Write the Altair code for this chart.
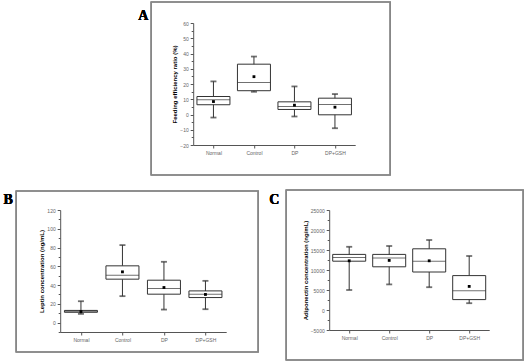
import altair as alt
import pandas as pd

groups = ["Normal", "Control", "DP", "DP+GSH"]

# Panel A: Feeding efficiency ratio (%)
a_min = [-2.0, 14.9, -1.3, -9.0]
a_q1 = [6.4, 15.6, 3.3, -0.2]
a_med = [9.6, 21.0, 5.3, 6.6]
a_q3 = [11.8, 33.0, 8.3, 10.7]
a_max = [21.7, 38.0, 18.4, 13.4]
a_mean = [8.5, 24.8, 6.1, 4.8]

# Panel B: Leptin concentration (ng/mL)
b_min = [9.3, 28.2, 13.9, 14.3]
b_q1 = [11.0, 46.3, 30.3, 26.7]
b_med = [12.0, 50.6, 36.3, 30.3]
b_q3 = [13.0, 60.5, 45.2, 33.8]
b_max = [22.8, 82.6, 64.8, 44.5]
b_mean = [11.8, 54.1, 37.4, 30.0]

# Panel C: Adiponectin concentration (ng/mL)
c_min = [5000, 6400, 5700, 1700]
c_q1 = [12200, 10800, 9500, 2600]
c_med = [13100, 13000, 12200, 4800]
c_q3 = [13900, 13900, 15300, 8600]
c_max = [15800, 16000, 17500, 13500]
c_mean = [12300, 12400, 12300, 5900]

FONT = "Liberation Sans"
DARK = "#333333"


def panel(letter, title, mins, q1s, meds, q3s, maxs, means, ydomain, yvals, yminor,
          w, h, frame, letter_pos):
    df = pd.DataFrame({"g": groups, "lo": mins, "q1": q1s, "med": meds,
                       "q3": q3s, "hi": maxs, "mean": means})
    xs = alt.Scale(type="point", domain=groups, padding=0.5)
    ys = alt.Scale(domain=ydomain, nice=False, zero=False)
    xax = alt.Axis(title=None, labelAngle=0, labelFontSize=5, labelColor="#666",
                   labelFont=FONT, domainColor="#555", tickColor="#555",
                   tickSize=3, labelPadding=2, grid=False)
    yax = alt.Axis(title=title, values=yvals, format="d", titleFontSize=6, titleFont=FONT,
                   titleFontWeight="bold", titleColor="black", titlePadding=2,
                   labelFontSize=5, labelColor="#666", labelFont=FONT,
                   domainColor="#555", tickColor="#555", tickSize=3,
                   labelPadding=2, grid=False)
    base = alt.Chart(df)
    X = alt.X("g:N", scale=xs, axis=xax, sort=groups)
    fl, fr, ft, fb = frame
    frame_mark = base.mark_rect(fillOpacity=0, stroke="#888", strokeWidth=1.2).encode(
        x=alt.value(fl), x2=alt.value(w + fr), y=alt.value(ft), y2=alt.value(h + fb))
    letter_mark = base.mark_text(font="Liberation Serif", fontWeight="bold",
                                 fontSize=14, color="black").encode(
        x=alt.value(letter_pos[0]), y=alt.value(letter_pos[1]), text=alt.value(letter))
    whisk = base.mark_rule(color=DARK, strokeWidth=1).encode(
        x=X, y=alt.Y("lo:Q", scale=ys, axis=yax), y2="hi:Q")
    box = base.mark_bar(size=33, fill="white", stroke=DARK, strokeWidth=1).encode(
        x=X, y=alt.Y("q1:Q", scale=ys, axis=yax), y2="q3:Q")
    med = base.mark_tick(size=33, thickness=1, color=DARK, orient="horizontal").encode(
        x=X, y=alt.Y("med:Q", scale=ys, axis=yax))
    cap_lo = base.mark_tick(size=6, thickness=1.8, color=DARK, orient="horizontal").encode(
        x=X, y=alt.Y("lo:Q", scale=ys, axis=yax))
    cap_hi = base.mark_tick(size=6, thickness=1.8, color=DARK, orient="horizontal").encode(
        x=X, y=alt.Y("hi:Q", scale=ys, axis=yax))
    mean = base.mark_square(size=8, color="black", opacity=1).encode(
        x=X, y=alt.Y("mean:Q", scale=ys, axis=yax))
    main = alt.layer(frame_mark, letter_mark, whisk, box, med, cap_lo, cap_hi, mean)
    minor_ax = alt.Axis(title=None, values=yminor, labels=False, domain=False,
                        tickColor="#555", tickSize=2, orient="left", grid=False)
    minor = base.mark_point(opacity=0).encode(
        x=X, y=alt.Y("med:Q", scale=ys, axis=minor_ax))
    return alt.layer(main, minor).resolve_axis(y="independent").properties(
        width=w, height=h)


pa = panel("A", "Feeding efficiency ratio (%)", a_min, a_q1, a_med, a_q3, a_max, a_mean,
           [-20, 60], list(range(-20, 61, 10)), list(range(-15, 60, 10)),
           162, 122, (-42, 35, -21, 30), (-50, -7))
pb = panel("B", "Leptin concentration (ng/mL)", b_min, b_q1, b_med, b_q3, b_max, b_mean,
           [-10, 120], list(range(0, 121, 20)), list(range(-10, 120, 20)),
           166, 122, (-44, 32, -19, 20), (-52, -10))
pc = panel("C", "Adiponectin concentration (ng/mL)", c_min, c_q1, c_med, c_q3, c_max, c_mean,
           [-5000, 25000], list(range(-5000, 25001, 5000)), list(range(-2500, 25000, 5000)),
           160, 120, (-43, 34, -20, 30), (-55, -10))

chart = alt.vconcat(
    pa,
    alt.hconcat(pb, pc, spacing=9),
    spacing=13,
    center=True,
).properties(
    padding={"left": 3, "top": 1, "right": 0, "bottom": 0},
    background="white",
).configure_view(strokeWidth=0)

chart.save("out.html", embed_options={"renderer": "svg", "actions": False})
